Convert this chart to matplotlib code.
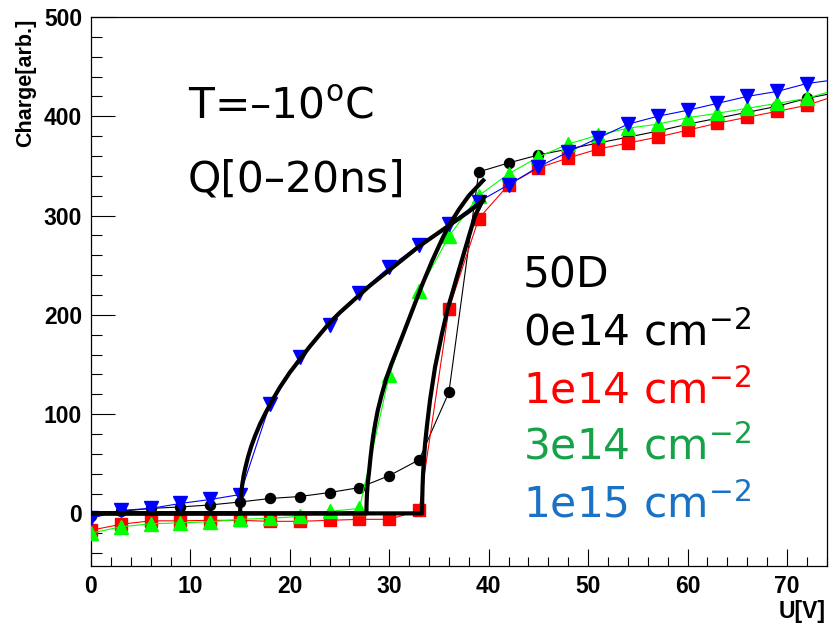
import matplotlib
matplotlib.use("Agg")
import matplotlib.pyplot as plt
from matplotlib.ticker import MultipleLocator

# ---------------- data ----------------
U = [0, 3, 6, 9, 12, 15, 18, 21, 24, 27, 30, 33, 36, 39, 42, 45, 48, 51, 54,
     57, 60, 63, 66, 69, 72, 75]
q_0e14 = [-3, 2, 5, 6.5, 8.5, 11.5, 15, 17, 21, 26, 38, 54, 122, 344, 353, 361,
          367, 373, 379, 385, 392, 398, 404, 410, 418, 424]
q_1e14 = [-17, -11, -7.5, -7.5, -7, -7, -8, -8, -7, -6, -6, 3, 206, 297, 331,
          348, 358, 367, 373, 379, 386, 393, 399, 405, 411, 421]
q_3e14 = [-20, -13.5, -10.5, -9.5, -8.5, -6, -5, -3, 2, 5, 139, 224, 279, 320,
          342, 359, 372, 381, 388, 392, 398.5, 403, 408, 413, 418, 427]
q_1e15 = [-5, 3, 5, 10, 14, 19, 110, 158, 190, 222, 248, 270, 291, 314, 331,
          349, 364, 378, 392, 400, 406, 413, 420, 425, 433, 437]

# fitted curves
fitA_U = [0, 15.0, 15.02, 15.08, 15.2, 15.35, 15.55, 15.8, 16.1, 16.5, 17.0,
          17.6, 18.3, 19.0, 20.0, 21.0, 22.0, 23.0, 24.0, 25.0, 26.0, 27.0,
          28.0, 29.0, 30.0, 31.0, 32.0, 33.0, 34.0, 35.0, 36.0, 37.0, 38.0, 39.6]
fitA_Q = [0, 0, 9, 18, 28, 38, 47, 57, 67, 78, 90, 102, 115, 127, 142, 155,
          168, 180, 192, 202, 211, 220, 229, 237, 245, 253, 261, 269, 276, 283,
          290, 297, 304, 316]
fitB_U = [0, 27.7, 27.72, 27.76, 27.83, 27.95, 28.1, 28.25, 28.4, 28.6, 28.85,
          29.2, 29.7, 30.2, 30.75, 31.3, 31.8, 32.3, 32.8, 33.3, 33.8, 34.3,
          34.8, 35.4, 36.0, 37.0, 38.0, 39.6]
fitB_Q = [0, 0, 10, 20, 30, 40, 55, 68, 79, 91, 104, 118, 136, 150, 164, 178,
          191, 204, 217, 230, 242, 254, 265, 278, 290, 306, 320, 337]
fitC_U = [0, 33.3, 33.32, 33.35, 33.4, 33.5, 33.6, 33.8, 34.1, 34.6, 35.3,
          35.9, 36.4, 36.8, 37.3, 37.8, 38.6, 39.6]
fitC_Q = [0, 0, 15, 27, 40, 56, 70, 89, 114, 147, 181, 207, 224, 238, 255,
          272, 299, 320]

legend_labels = ["50D", "0e14 cm$^{\\mathregular{-2}}$", "1e14 cm$^{\\mathregular{-2}}$",
                 "3e14 cm$^{\\mathregular{-2}}$", "1e15 cm$^{\\mathregular{-2}}$"]
legend_colors = ["black", "#ff0000", "#17a24a", "#1a72c4"]

# ---------------- figure ----------------
W, H = 837, 628
fig = plt.figure(figsize=(W / 100, H / 100), dpi=100)
ax = fig.add_axes([91 / W, 1 - 566 / H, (826.7 - 91) / W, (566 - 17) / H])

lw_thin = 0.8
ax.plot(U, q_0e14, color="black", lw=lw_thin, marker="o", ms=7.2, mec="black",
        mfc="black", zorder=3)
ax.plot(U, q_1e14, color="#ff0000", lw=lw_thin, marker="s", ms=8.5, mec="#ff0000",
        mfc="#ff0000", zorder=4)
ax.plot(U, q_3e14, color="#00ff00", lw=lw_thin, marker="^", ms=9.5, mec="#00ff00",
        mfc="#00ff00", zorder=5)
ax.plot(U, q_1e15, color="#0000ff", lw=lw_thin, marker="v", ms=9.5, mec="#0000ff",
        mfc="#0000ff", zorder=6)

for fu, fq in ((fitA_U, fitA_Q), (fitB_U, fitB_Q), (fitC_U, fitC_Q)):
    ax.plot(fu, fq, color="black", lw=3.0, zorder=7, solid_capstyle="butt",
            solid_joinstyle="round")

ax.set_xlim(0, 74)
ax.set_ylim(-53, 500)
ax.xaxis.set_major_locator(MultipleLocator(10))
ax.xaxis.set_minor_locator(MultipleLocator(2))
ax.yaxis.set_major_locator(MultipleLocator(100))
ax.yaxis.set_minor_locator(MultipleLocator(20))

ax.tick_params(axis="x", which="major", direction="in", length=12.2, width=0.8,
               top=False, pad=6.5)
ax.tick_params(axis="x", which="minor", direction="in", length=6.5, width=0.8,
               top=False)
ax.tick_params(axis="y", which="major", direction="in", length=17, width=0.8,
               right=False, pad=6.5)
ax.tick_params(axis="y", which="minor", direction="in", length=8, width=0.8,
               right=False)
for sp in ax.spines.values():
    sp.set_linewidth(0.9)
    sp.set_color("black")

for lab in ax.get_xticklabels() + ax.get_yticklabels():
    lab.set_family(["Liberation Sans", "DejaVu Sans"])
    lab.set_weight("bold")
    lab.set_size(16.5)

# axis titles
fig.text(826 / W, 1 - 618 / H, "U[V]", ha="right", va="baseline",
         family=["Liberation Sans", "DejaVu Sans"], weight="bold", size=16.5)
fig.text(31 / W, 1 - 19 / H, "Charge[arb.]", rotation=90, rotation_mode="anchor",
         ha="right", va="baseline", family=["Liberation Sans", "DejaVu Sans"],
         weight="bold", size=15.5)

plt.rcParams["mathtext.default"] = "regular"
big = dict(family=["DejaVu Sans"], size=30.5)
fig.text(188 / W, 1 - 118 / H, "T=\u201310$^{\\mathregular{o}}$C", ha="left",
         va="baseline", color="black", **big)
fig.text(188 / W, 1 - 192 / H, "Q[0\u201320ns]", ha="left", va="baseline",
         color="black", **big)

baselines = [288, 345, 403, 460, 518]
cols = ["black"] + legend_colors
for lbl, yb, c in zip(legend_labels, baselines, cols):
    fig.text(523 / W, 1 - yb / H, lbl, ha="left", va="baseline", color=c, **big)

fig.savefig("out.png", dpi=100)
